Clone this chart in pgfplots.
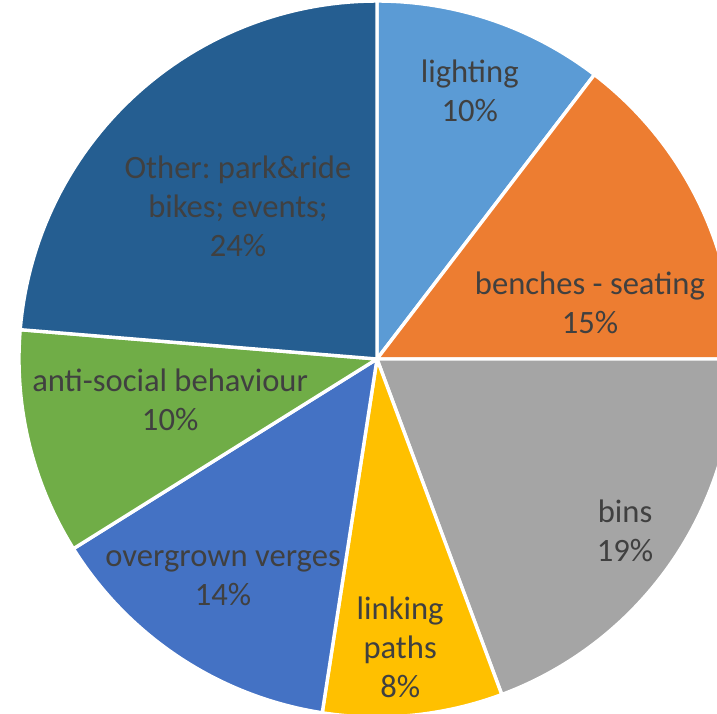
\documentclass[border=0pt]{standalone}
\usepackage{pgfplots}
\pgfplotsset{compat=1.18}
\usepgfplotslibrary{polar}
\usetikzlibrary{calc}
\usepackage{fontspec}
\setmainfont{Carlito}
\frenchspacing
\definecolor{cLight}{HTML}{5B9BD5}
\definecolor{cBench}{HTML}{ED7D31}
\definecolor{cBins}{HTML}{A5A5A5}
\definecolor{cLink}{HTML}{FFC000}
\definecolor{cVerge}{HTML}{4472C4}
\definecolor{cAnti}{HTML}{70AD47}
\definecolor{cOther}{HTML}{255E91}
\definecolor{txt}{HTML}{404040}
\begin{document}
\begin{tikzpicture}[lbl/.style={font=\fontsize{16.3}{19.5}\selectfont, text=txt, align=center, inner sep=0pt}]
\begin{polaraxis}[
  hide axis, scale only axis, width=358pt, height=358pt,
  ymin=0, ymax=1, xmin=0, xmax=360, clip=false,
  every axis plot/.append style={draw=white, line width=1.7pt, line join=round, samples=60, no markers},
]
% slices: lighting 10%, benches 15%, bins 19%, linking 8%, overgrown 14%, anti-social 10%, other 24%
\addplot[fill=cLight,  domain=52.6:90]      {1} -- (axis cs:0,0) -- cycle;
\addplot[fill=cBench,  domain=0:52.6]       {1} -- (axis cs:0,0) -- cycle;
\addplot[fill=cBins,   domain=-69.6:0]      {1} -- (axis cs:0,0) -- cycle;
\addplot[fill=cLink,   domain=-98.8:-69.6]  {1} -- (axis cs:0,0) -- cycle;
\addplot[fill=cVerge,  domain=-148:-98.8]   {1} -- (axis cs:0,0) -- cycle;
\addplot[fill=cAnti,   domain=-184.7:-148]  {1} -- (axis cs:0,0) -- cycle;
\addplot[fill=cOther,  domain=-270:-184.7]  {1} -- (axis cs:0,0) -- cycle;
\coordinate (O) at (axis cs:0,0);
\node[lbl] at (axis cs:70.9,0.792) {lighting\\10\%};
\node[lbl] at (axis cs:14.7,0.615) {benches - seating\\15\%};
\node[lbl] at (axis cs:-34.7,0.843) {bins\\19\%};
\node[lbl] at (axis cs:-85.4,0.807) {linking\\paths\\8\%};
\node[lbl] at (axis cs:234.9,0.748) {overgrown verges\\14\%};
\node[lbl] at (axis cs:191.2,0.589) {anti-social behaviour\\10\%};
\node[lbl] at (axis cs:132.3,0.577) {Other: park\&ride\\bikes; events;\\24\%};
\end{polaraxis}
\pgfresetboundingbox
\path ($(O)+(-188.5pt,-177pt)$) rectangle ($(O)+(170pt,179.5pt)$);
\end{tikzpicture}
\end{document}
